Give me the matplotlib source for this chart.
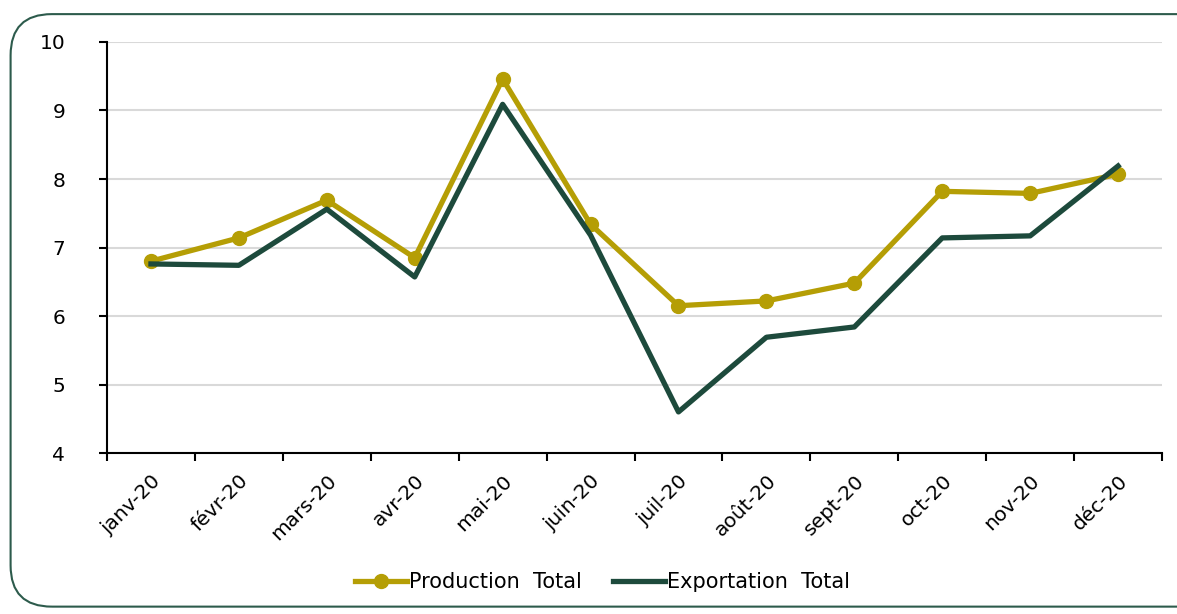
import matplotlib
matplotlib.use("Agg")
import matplotlib.pyplot as plt
from matplotlib.patches import FancyBboxPatch
from matplotlib.ticker import FixedLocator

# ---------------- DATA ----------------
months = ["janv-20", "févr-20", "mars-20", "avr-20", "mai-20", "juin-20",
          "juil-20", "août-20", "sept-20", "oct-20", "nov-20", "déc-20"]
production = [6.80, 7.14, 7.69, 6.85, 9.46, 7.34, 6.15, 6.22, 6.48, 7.82, 7.79, 8.07]
exportation = [6.76, 6.74, 7.56, 6.57, 9.09, 7.18, 4.60, 5.69, 5.84, 7.14, 7.17, 8.19]

PROD_COLOR = "#B59E05"
EXP_COLOR = "#1D4A3C"

# ---------------- PLOT ----------------
fig = plt.figure(figsize=(11.77, 6.14), dpi=100)

# rounded frame around the whole chart
frame = FancyBboxPatch((0.009, 0.012), 1.2, 0.965,
                       boxstyle="round,pad=0,rounding_size=0.035",
                       transform=fig.transFigure, facecolor="none",
                       edgecolor="#2D5B4C", linewidth=1.5,
                       mutation_aspect=1177 / 614, zorder=-1)
fig.patches.append(frame)

ax = fig.add_axes([0.0909, 0.2622, 0.8964, 0.6694])
ax.set_facecolor("none")

x = range(len(months))
ax.plot(x, production, color=PROD_COLOR, linewidth=3.8, marker="o",
        markersize=10, label="Production  Total", zorder=3)
ax.plot(x, exportation, color=EXP_COLOR, linewidth=3.8,
        label="Exportation  Total", zorder=4)

ax.set_xlim(-0.5, len(months) - 0.5)
ax.set_ylim(4, 10)
ax.set_yticks(range(4, 11))
ax.grid(axis="y", color="#d9d9d9", linewidth=1.5)
ax.set_axisbelow(True)

# labels at category centres, tick marks at category boundaries
ax.set_xticks(list(x))
ax.set_xticklabels(months, rotation=45, ha="right", rotation_mode="anchor")
ax.xaxis.set_minor_locator(FixedLocator([i - 0.5 for i in range(len(months) + 1)]))
ax.tick_params(axis="x", which="major", length=0, pad=13, labelsize=14.5)
ax.tick_params(axis="x", which="minor", length=6, width=1.5)
ax.tick_params(axis="y", length=6, width=1.5, labelsize=14.5, pad=24)

for side in ["top", "right"]:
    ax.spines[side].set_visible(False)
for side in ["left", "bottom"]:
    ax.spines[side].set_linewidth(1.5)

fig.legend(loc="center", bbox_to_anchor=(0.512, 0.052), ncol=2, frameon=False,
           fontsize=15, handlelength=2.5, handletextpad=0.1, columnspacing=1.5)

# ---------------- SAVE ----------------
fig.savefig("out.png", dpi=100)
plt.close(fig)
